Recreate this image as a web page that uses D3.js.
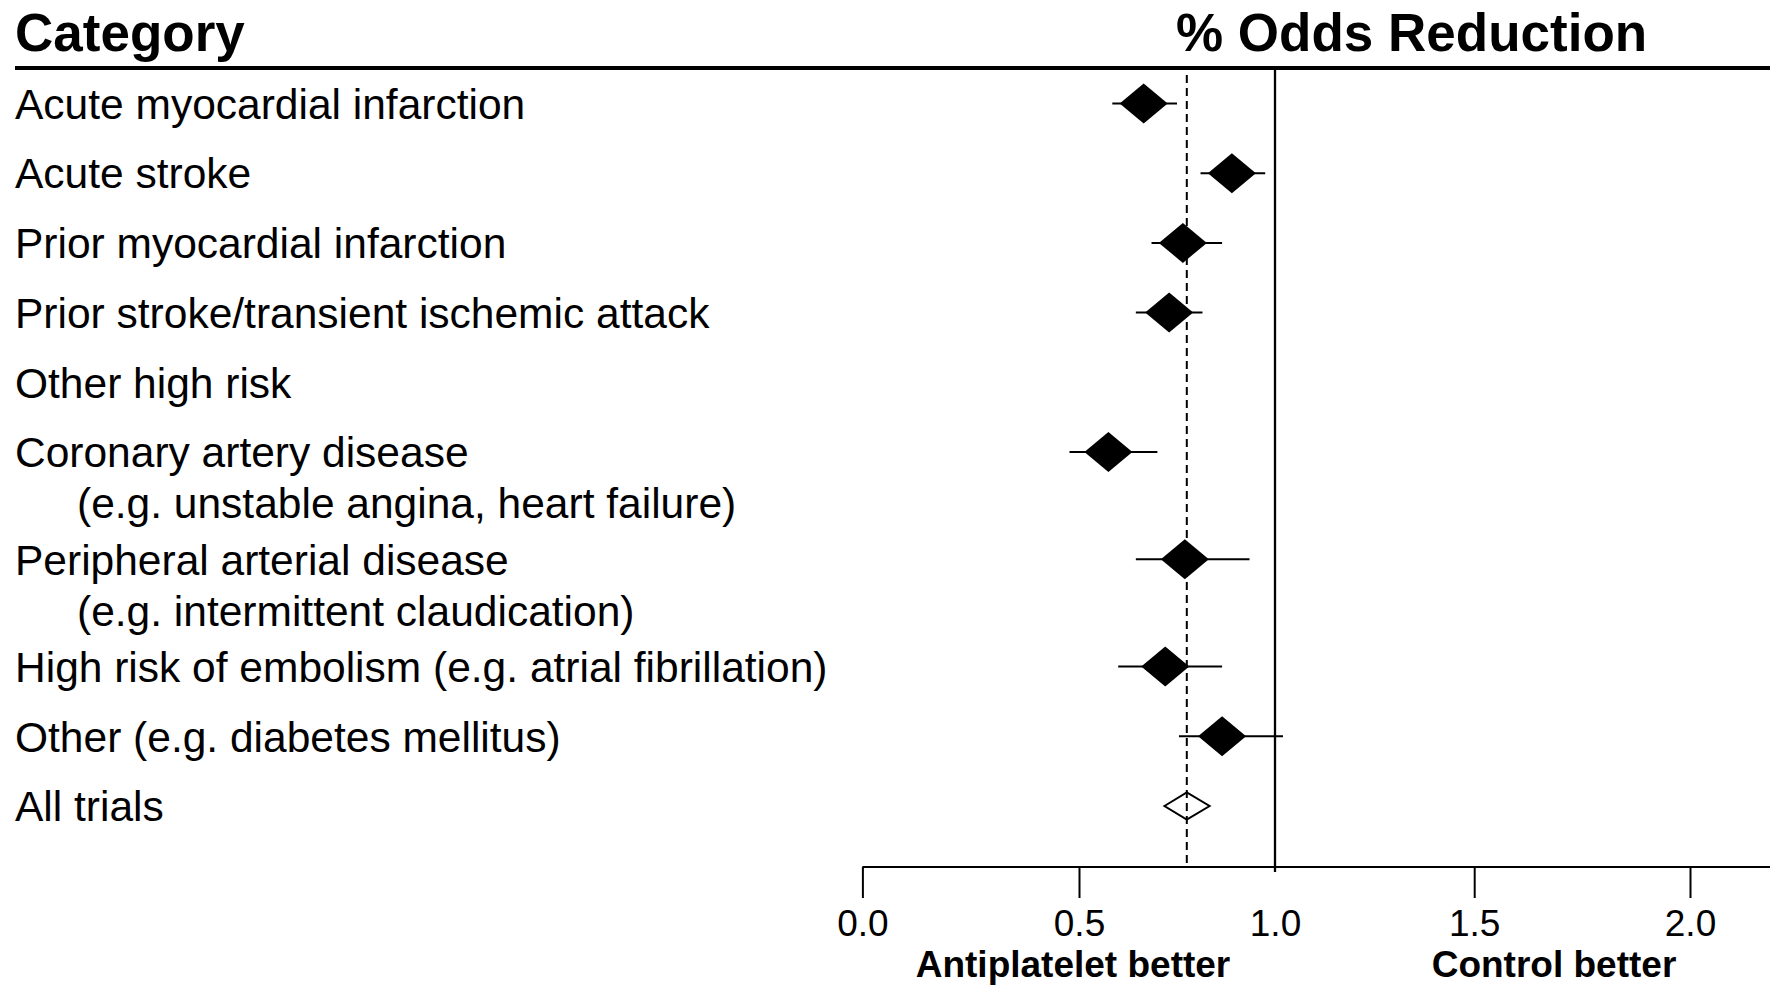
<!DOCTYPE html>
<html>
<head>
<meta charset="utf-8">
<script src="https://cdn.jsdelivr.net/npm/d3@7"></script>
<style>
  html, body { margin: 0; padding: 0; background: #fff; }
  svg { display: block; font-family: "Liberation Sans", Arial, Helvetica, sans-serif; }
</style>
</head>
<body>
<svg id="chart" width="1770" height="985"></svg>
<script>
// ---- data ---------------------------------------------------------------
const categories = [
  "Acute myocardial infarction",
  "Acute stroke",
  "Prior myocardial infarction",
  "Prior stroke/transient ischemic attack",
  "Other high risk",
  "Coronary artery disease",
  "Peripheral arterial disease",
  "High risk of embolism (e.g. atrial fibrillation)",
  "Other (e.g. diabetes mellitus)",
  "All trials"
];
const subLabels = [
  null, null, null, null, null,
  "(e.g. unstable angina, heart failure)",
  "(e.g. intermittent claudication)",
  null, null, null
];
// odds ratio (antiplatelet vs control) with confidence limits; "Other high risk" is a heading row
const oddsRatio = [0.665, 0.89, 0.765, 0.73, null, 0.575, 0.77, 0.72, 0.865, 0.775];
const ciLower   = [0.585, 0.81, 0.685, 0.645, null, 0.478, 0.645, 0.60, 0.755, 0.718];
const ciUpper   = [0.75, 0.975, 0.865, 0.815, null, 0.70, 0.935, 0.865, 1.02, 0.833];
const isSummary = [false, false, false, false, false, false, false, false, false, true];

const tickValues = [0, 0.5, 1.0, 1.5, 2.0];
const tickLabels = ["0.0", "0.5", "1.0", "1.5", "2.0"];
const nullValue = 1.0;

// ---- layout ---------------------------------------------------------------
const W = 1770, H = 985;
const svg = d3.select("#chart");
const headerY = 68;
const axisY = 867;
const labelX = 15, subIndent = 62;
const labelFont = 42.5, titleFont = 53, tickFont = 37;

const rows = categories.map((c, i) => ({
  label: c, sub: subLabels[i], or: oddsRatio[i], lo: ciLower[i], hi: ciUpper[i], summary: isSummary[i]
}));

// each row takes one slot; a continuation line adds a partial slot
let slot = 0;
rows.forEach((r, i) => {
  if (i > 0) slot += 1 + (rows[i - 1].sub ? 0.54 : 0);
  r.slot = slot;
});
const y = d3.scaleLinear().domain([0, slot]).range([103.5, 806]);

// odds-ratio axis (tick marks on the original are unevenly spaced)
const x = d3.scaleLinear()
  .domain(tickValues)
  .range([862.4, 1079, 1275, 1474.2, 1690]);

// ---- headings -------------------------------------------------------------
svg.append("text")
  .attr("x", labelX).attr("y", 51)
  .attr("font-size", titleFont).attr("font-weight", "bold")
  .text("Category");
svg.append("text")
  .attr("x", 1176).attr("y", 51)
  .attr("font-size", titleFont).attr("font-weight", "bold")
  .text("% Odds Reduction");
svg.append("line")
  .attr("x1", labelX).attr("x2", W)
  .attr("y1", headerY).attr("y2", headerY)
  .attr("stroke", "#000").attr("stroke-width", 4);

// ---- category labels --------------------------------------------------------
const lab = svg.append("g").attr("font-size", labelFont);
rows.forEach(r => {
  lab.append("text")
    .attr("x", labelX).attr("y", y(r.slot)).attr("dy", "0.36em")
    .text(r.label);
  if (r.sub) {
    lab.append("text")
      .attr("x", labelX + subIndent).attr("y", y(r.slot) + 51).attr("dy", "0.36em")
      .text(r.sub);
  }
});

// ---- reference lines ------------------------------------------------------
const overall = rows.find(r => r.summary);
svg.append("line")
  .attr("x1", x(overall.or)).attr("x2", x(overall.or))
  .attr("y1", 75).attr("y2", axisY)
  .attr("stroke", "#000").attr("stroke-width", 2)
  .attr("stroke-dasharray", "8,5");
svg.append("line")
  .attr("x1", x(nullValue)).attr("x2", x(nullValue))
  .attr("y1", 70).attr("y2", axisY + 5)
  .attr("stroke", "#000").attr("stroke-width", 2.3);

// ---- estimates --------------------------------------------------------------
const est = svg.append("g");
const dw = 24, dh = 20;
rows.filter(r => r.or != null && !r.summary).forEach(r => {
  const cy = y(r.slot);
  est.append("line")
    .attr("x1", x(r.lo)).attr("x2", x(r.hi))
    .attr("y1", cy).attr("y2", cy)
    .attr("stroke", "#000").attr("stroke-width", 2);
  const cx = x(r.or);
  est.append("path")
    .attr("d", `M${cx - dw},${cy}L${cx},${cy - dh}L${cx + dw},${cy}L${cx},${cy + dh}Z`)
    .attr("fill", "#000");
});
rows.filter(r => r.summary).forEach(r => {
  const cy = y(r.slot), cx = x(r.or), h = 13.5;
  est.append("path")
    .attr("d", `M${x(r.lo)},${cy}L${cx},${cy - h}L${x(r.hi)},${cy}L${cx},${cy + h}Z`)
    .attr("fill", "none").attr("stroke", "#000").attr("stroke-width", 2);
});

// ---- x axis -------------------------------------------------------------------
const axis = d3.axisBottom(x)
  .tickValues(tickValues)
  .tickFormat((d, i) => tickLabels[i])
  .tickSize(31)
  .tickPadding(12);
const gx = svg.append("g")
  .attr("transform", `translate(0,${axisY})`)
  .call(axis);
gx.select(".domain").remove();
gx.selectAll(".tick line").attr("stroke-width", 2)
  .filter(d => d === nullValue).attr("y2", 0);
gx.selectAll(".tick text")
  .attr("font-size", tickFont)
  .attr("font-family", "Liberation Sans, Arial, sans-serif")
  .attr("fill", "#000");
svg.append("line")
  .attr("x1", x(0)).attr("x2", W)
  .attr("y1", axisY).attr("y2", axisY)
  .attr("stroke", "#000").attr("stroke-width", 2);

svg.append("text")
  .attr("x", 1073).attr("y", 977)
  .attr("text-anchor", "middle")
  .attr("font-size", tickFont).attr("font-weight", "bold")
  .text("Antiplatelet better");
svg.append("text")
  .attr("x", 1554).attr("y", 977)
  .attr("text-anchor", "middle")
  .attr("font-size", tickFont).attr("font-weight", "bold")
  .text("Control better");
</script>
</body>
</html>
